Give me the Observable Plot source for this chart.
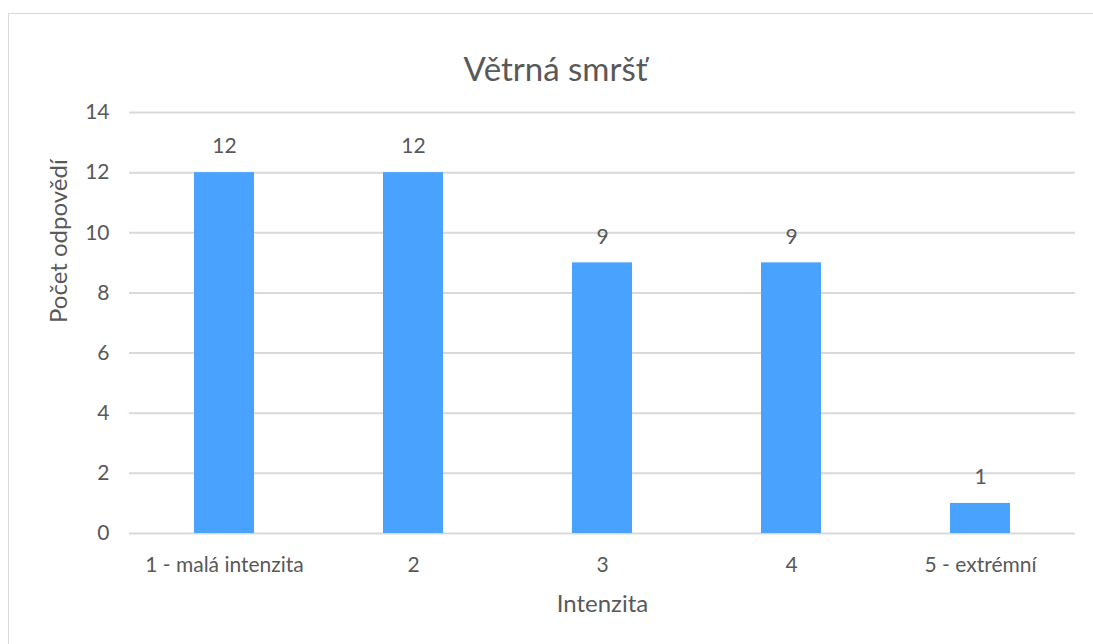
<!DOCTYPE html>
<html><head><meta charset="utf-8">
<script src="https://cdn.jsdelivr.net/npm/d3@7"></script>
<script src="https://cdn.jsdelivr.net/npm/@observablehq/plot@0.6"></script>
<style>
html,body{margin:0;padding:0;background:#fff;overflow:hidden;}
#chart{position:absolute;left:0;top:0;}
#border{position:absolute;left:8px;top:13px;width:1200px;height:700px;border-left:1px solid #d9d9d9;border-top:1px solid #d9d9d9;pointer-events:none;}
</style></head><body>
<div id="chart"></div><div id="border"></div>
<script>
const categories = ["1 - malá intenzita","2","3","4","5 - extrémní"];
const counts = [12,12,9,9,1];
const yTicks = [0,2,4,6,8,10,12,14];
const title = "Větrná smršť";
const xLabel = "Intenzita";
const yLabel = "Počet odpovědí";
const data = categories.map((c,i)=>({cat:c, n:counts[i]}));
const font = "Lato, 'Open Sans', sans-serif";
const grey = "#595959";
const chart = Plot.plot({
  width:1093,height:644,marginLeft:129,marginRight:18,marginTop:112,marginBottom:111,
  style:{fontFamily:font,color:grey,background:"transparent",overflow:"hidden"},
  x:{domain:categories,paddingInner:0.685,paddingOuter:0.3425},
  y:{domain:[0,14]},
  marks:[
    Plot.ruleY(yTicks,{stroke:"#d9d9d9",strokeWidth:2}),
    Plot.barY(data,{x:"cat",y:"n",fill:"#4aa2ff"}),
    Plot.text(data,{x:"cat",y:"n",text:d=>String(d.n),dy:-26,fontSize:21,fill:grey}),
    Plot.axisY({ticks:yTicks,tickSize:0,tickPadding:20,fontSize:21,label:null}),
    Plot.axisX({tickSize:0,tickPadding:24,fontSize:21,label:null}),
    Plot.text([yLabel],{text:d=>d,frameAnchor:"left",dx:-70,rotate:-90,fontSize:24,fill:grey}),
    Plot.text([xLabel],{text:d=>d,frameAnchor:"bottom",dy:78,fontSize:24,fill:grey}),
    Plot.text([title],{text:d=>d,frameAnchor:"top",dx:-47,dy:-55,fontSize:33,fill:grey})
  ]
});
document.getElementById("chart").appendChild(chart);
</script>
</body></html>
